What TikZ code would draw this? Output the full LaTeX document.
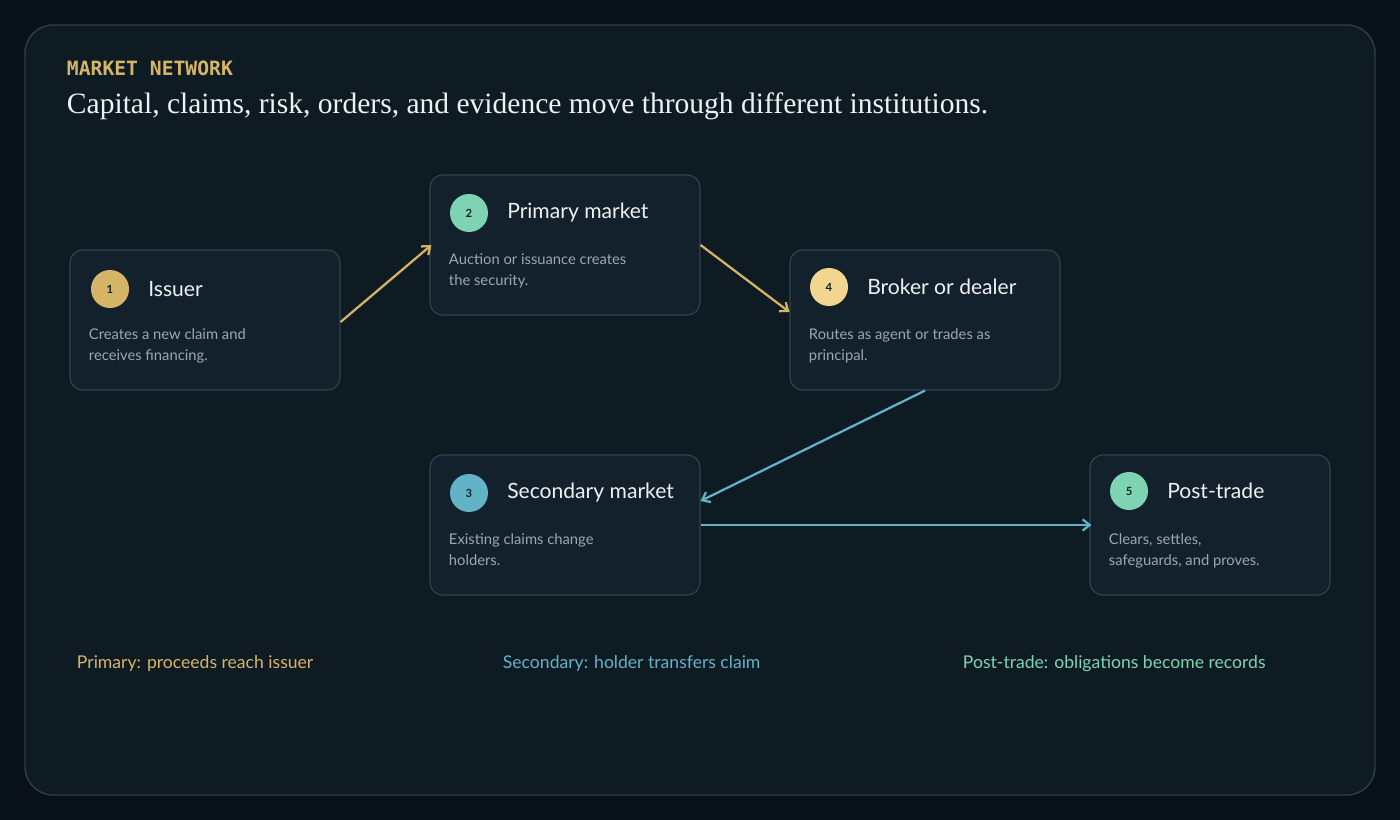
\documentclass[tikz,border=0pt]{standalone}
\usepackage{fontspec}
\setmainfont{Lato}
\newfontfamily\serifface{Liberation Serif}
\newfontfamily\monoface{DejaVu Sans Mono}
\usetikzlibrary{positioning,arrows.meta}
\definecolor{pagebg}{HTML}{08111A}
\definecolor{panelbg}{HTML}{0F1B23}
\definecolor{panelline}{HTML}{2C3E48}
\definecolor{boxbg}{HTML}{12212B}
\definecolor{boxline}{HTML}{2F4550}
\definecolor{gold}{HTML}{D6B466}
\definecolor{sand}{HTML}{F2D690}
\definecolor{mint}{HTML}{7ED3B2}
\definecolor{sky}{HTML}{62B3C8}
\definecolor{ink}{HTML}{EDF1F3}
\definecolor{muted}{HTML}{9AA8B0}

\begin{document}
\begin{tikzpicture}[
        x=0.025cm, y=-0.025cm,
        box/.style={rectangle, rounded corners=9pt, draw=boxline, line width=0.8pt, fill=boxbg, minimum width=#1*0.025cm, minimum height=3.5cm, inner sep=0pt},
        box/.default=270,
        badge/.style={circle, fill=#1, minimum size=0.95cm, inner sep=0pt, font=\bfseries\fontsize{8}{8}\selectfont, text=boxbg},
        head/.style={anchor=west, text=ink, font=\fontsize{15}{18}\selectfont},
        desc/.style={anchor=north west, text=muted, align=left, font=\fontsize{10.5}{15}\selectfont},
        flow/.style={-{Straight Barb[length=5pt,width=8pt]}, line width=1.6pt, draw=#1},
        note/.style={anchor=west, font=\fontsize{12.5}{14}\selectfont}
    ]
        \fill[pagebg] (0,0) rectangle (1400,820);
        \draw[panelline, fill=panelbg, line width=1pt, rounded corners=20pt] (25,25) rectangle (1375,795);

        \node[anchor=west, text=gold, font=\monoface\bfseries\fontsize{14}{16}\selectfont] (kicker) at (62,68) {MARKET NETWORK};
        \node[anchor=west, text=ink, font=\serifface\fontsize{21}{24}\selectfont] (headline) at (62,106) {Capital, claims, risk, orders, and evidence move through different institutions.};

        % stations
        \node[box] (iss) at (205,320) {};
        \node[box] (pri) at (565,245) {};
        \node[box] (bro) at (925,320) {};
        \node[box] (sec) at (565,525) {};
        \node[box=240] (pst) at (1210,525) {};

        \node[badge=gold] (issno) at (110,289) {1};
        \node[head, right=0.35cm of issno] {Issuer};
        \node[desc] at (84,324) {Creates a new claim and\\receives financing.};

        \node[badge=mint] (prino) at (469,213) {2};
        \node[head, right=0.35cm of prino] {Primary market};
        \node[desc] at (444,249) {Auction or issuance creates\\the security.};

        \node[badge=sand] (brono) at (829,287) {4};
        \node[head, right=0.35cm of brono] {Broker or dealer};
        \node[desc] at (804,324) {Routes as agent or trades as\\principal.};

        \node[badge=sky] (secno) at (469,493) {3};
        \node[head, right=0.35cm of secno] {Secondary market};
        \node[desc] at (444,529) {Existing claims change\\holders.};

        \node[badge=mint] (pstno) at (1129,491) {5};
        \node[head, right=0.35cm of pstno] {Post-trade};
        \node[desc] at (1104,529) {Clears, settles,\\safeguards, and proves.};

        % flows
        \draw[flow=gold] ([yshift=-0.05cm]iss.east) -- ([xshift=0.05cm]pri.west);
        \draw[flow=gold] (pri.east) -- ([yshift=0.2cm]bro.west);
        \draw[flow=sky] (bro.south) -- ([yshift=0.6cm]sec.east);
        \draw[flow=sky] (sec.east) -- ([xshift=0.05cm]pst.west);

        \node[note, text=gold] (notep) at (72,664) {Primary: proceeds reach issuer};
        \node[note, text=sky] (notes) at (498,664) {Secondary: holder transfers claim};
        \node[note, text=mint] (notet) at (958,664) {Post-trade: obligations become records};
    \end{tikzpicture}
\end{document}
